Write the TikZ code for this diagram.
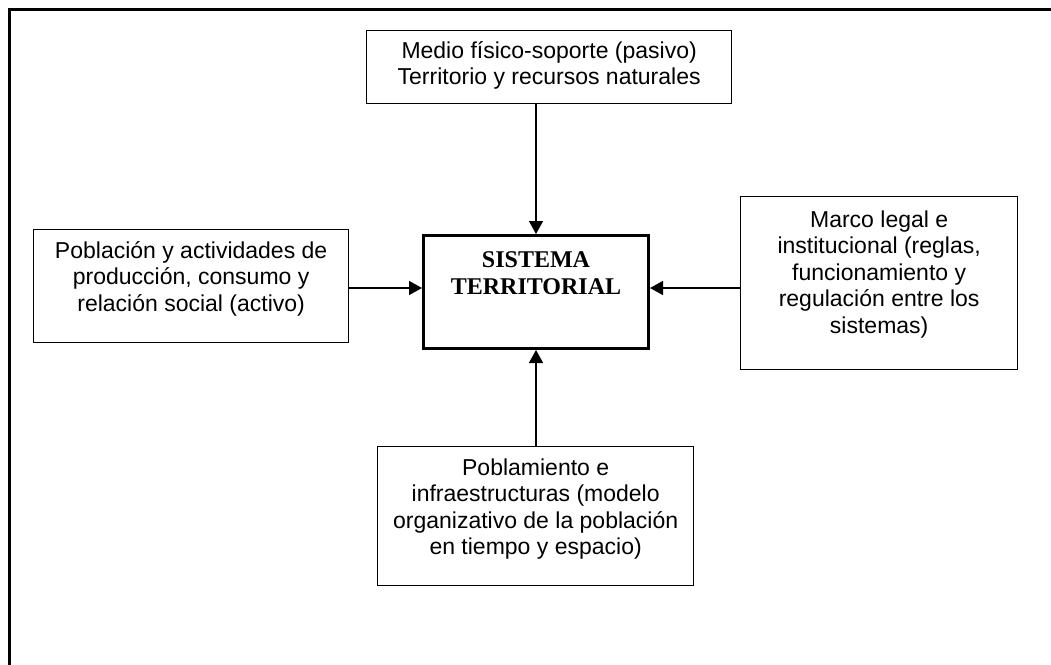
\documentclass[tikz,border=0pt]{standalone}
\usepackage{fontspec}
\setmainfont{Liberation Sans}
\newfontfamily\serifbold{Liberation Serif}
\usetikzlibrary{arrows.meta}
\tikzset{
  box/.style={draw=black, line width=1.3pt, fill=white, inner sep=0pt, anchor=north west},
  mainbox/.style={draw=black, line width=3pt, fill=white, inner sep=0pt, anchor=north west},
  lbl/.style={inner sep=0pt, anchor=north, align=center, font=\fontsize{23}{26.5}\selectfont},
  mainlbl/.style={inner sep=0pt, anchor=north, align=center, font=\fontsize{24}{27.7}\selectfont\serifbold\bfseries},
  conn/.style={line width=1.5pt, -{Triangle[length=13pt,width=14pt]}},
  frame/.style={line width=3.5pt}
}
\newcommand{\topstrut}{\rule{0pt}{22pt}}
\begin{document}
\begin{tikzpicture}[x=1pt,y=-1pt]
\useasboundingbox (0,0) rectangle (1051,664);
\fill[white] (0,0) rectangle (1051,664);
% outer frame (top and left edges visible)
\coordinate (fa) at (1060,9.5);
\coordinate (fb) at (9.5,9.5);
\coordinate (fc) at (9.5,670);
\draw[frame] (fa) -- (fb) -- (fc);
% boxes
\node[box, minimum width=365pt, minimum height=73pt] (top) at (366,30) {};
\node[mainbox, minimum width=225pt, minimum height=113pt] (center) at (422,234) {};
\node[box, minimum width=315pt, minimum height=113pt] (left) at (33,229) {};
\node[box, minimum width=277pt, minimum height=173pt] (right) at (740,196) {};
\node[box, minimum width=316pt, minimum height=139pt] (bottom) at (377,446) {};
% labels
\node[lbl] (toptxt) at ([yshift=-6pt]top.north) {\topstrut Medio físico-soporte (pasivo)\\Territorio y recursos naturales};
\node[mainlbl] (centertxt) at ([yshift=-11pt]center.north) {\topstrut SISTEMA\\TERRITORIAL};
\node[lbl] (lefttxt) at ([yshift=-7pt]left.north) {\topstrut Población y actividades de\\producción, consumo y\\relación social (activo)};
\node[lbl] (righttxt) at ([yshift=-9pt]right.north) {\topstrut Marco legal e\\institucional (reglas,\\funcionamiento y\\regulación entre los\\sistemas)};
\node[lbl] (bottomtxt) at ([yshift=-7pt]bottom.north) {\topstrut Poblamiento e\\infraestructuras (modelo\\organizativo de la población\\en tiempo y espacio)};
% connectors
\coordinate (hy) at (0,288);
\draw[conn] (center.north |- top.south) -- (center.north);
\draw[conn] (left.east |- hy) -- (center.west |- hy);
\draw[conn] (right.west |- hy) -- (center.east |- hy);
\draw[conn] (center.south |- bottom.north) -- (center.south);
\end{tikzpicture}
\end{document}
